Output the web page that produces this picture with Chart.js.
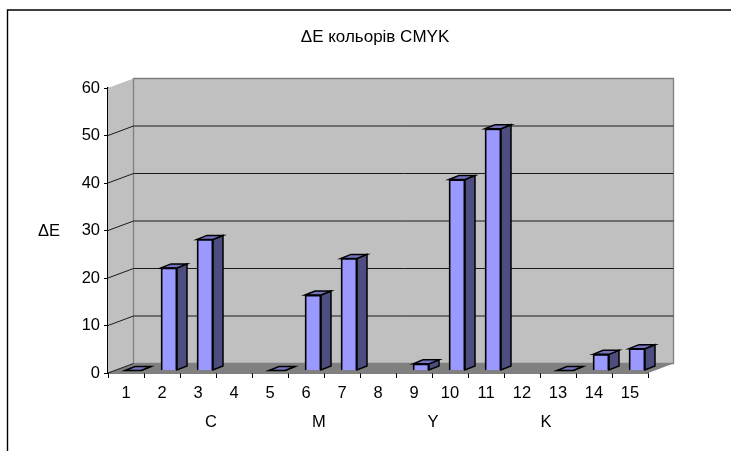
<!DOCTYPE html>
<html>
<head>
<meta charset="utf-8">
<title>ΔE кольорів CMYK</title>
<script src="https://cdn.jsdelivr.net/npm/chart.js@4"></script>
<style>
    html, body { margin: 0; padding: 0; background: #fff; }
    #deltaChart { display: block; }
</style>
</head>
<body>
<div style="width:731px;height:451px"><canvas id="deltaChart" width="731" height="451"></canvas></div>
<script>
var categories = ['1', '2', '3', '4', '5', '6', '7', '8', '9', '10', '11', '12', '13', '14', '15'];
var deltaE = [0, 21.6, 27.6, null, 0, 15.9, 23.6, null, 1.4, 40.2, 50.9, null, 0, 3.4, 4.6];
var groupNames = ['C', 'M', 'Y', 'K'];
var groupCentres = [2.86, 5.86, 9.03, 12.17];
var yTicks = [0, 10, 20, 30, 40, 50, 60];

var fontFamily = '"Liberation Sans", Arial, sans-serif';
// depth of the fake 3D box, and how far the bars sit inside it
var wallDx = 25.5, wallDy = -9.5;
var barDx = 7, barDy = -2.5;
var sideDx = 10, sideDy = -4;

function poly(ctx, pts, fill, stroke, lineWidth) {
    ctx.beginPath();
    ctx.moveTo(pts[0][0], pts[0][1]);
    for (var i = 1; i < pts.length; i++) ctx.lineTo(pts[i][0], pts[i][1]);
    ctx.closePath();
    if (fill) { ctx.fillStyle = fill; ctx.fill(); }
    if (stroke) { ctx.strokeStyle = stroke; ctx.lineWidth = lineWidth; ctx.stroke(); }
}

var box3d = {
    id: 'box3d',
    afterLayout: function (chart) {
        // title sits a little left of the plot centre
        chart.titleBlock.left -= 3;
        chart.titleBlock.right -= 3;
    },
    beforeDraw: function (chart) {
        var ctx = chart.ctx;
        ctx.save();
        ctx.strokeStyle = '#000';
        ctx.lineWidth = 1.4;
        ctx.beginPath();
        ctx.moveTo(7.5, 451);
        ctx.lineTo(7.5, 10);
        ctx.lineTo(731, 10);
        ctx.stroke();
        ctx.restore();
    },
    beforeDatasetsDraw: function (chart) {
        var ctx = chart.ctx, a = chart.chartArea, y = chart.scales.y;
        var l = a.left, r = a.right, t = a.top, b = a.bottom;
        ctx.save();
        // side wall, back wall, floor
        poly(ctx, [[l, t], [l + wallDx, t + wallDy], [l + wallDx, b + wallDy], [l, b]], '#c0c0c0');
        poly(ctx, [[l + wallDx, t + wallDy], [r + wallDx, t + wallDy], [r + wallDx, b + wallDy], [l + wallDx, b + wallDy]], '#c0c0c0', '#808080', 1.3);
        poly(ctx, [[l, b], [l + wallDx, b + wallDy], [r + wallDx, b + wallDy], [r, b]], '#808080');
        // gridlines bend round the side wall
        ctx.strokeStyle = '#1a1a1a';
        ctx.lineWidth = 1;
        yTicks.forEach(function (v) {
            if (v === 60) return;
            var py = y.getPixelForValue(v);
            ctx.beginPath();
            ctx.moveTo(l, py);
            ctx.lineTo(l + wallDx, py + wallDy);
            if (v !== 0) ctx.lineTo(r + wallDx, py + wallDy);
            ctx.stroke();
        });
        // side and top faces of the bars
        var bars = chart.getDatasetMeta(0).data;
        bars.forEach(function (bar, i) {
            if (deltaE[i] === null) return;
            var x1 = bar.x - bar.width / 2 + barDx, x2 = bar.x + bar.width / 2 + barDx;
            var top = bar.y + barDy, base = bar.base + barDy;
            poly(ctx, [[x2, top], [x2 + sideDx, top + sideDy], [x2 + sideDx, base + sideDy], [x2, base]], '#4d4d80', '#000', 1.5);
            poly(ctx, [[x1, top], [x1 + sideDx, top + sideDy], [x2 + sideDx, top + sideDy], [x2, top]], '#7373bf', '#000', 1.5);
        });
        ctx.restore();
    },
    beforeDatasetDraw: function (chart) {
        chart.ctx.save();
        chart.ctx.translate(barDx, barDy);
    },
    afterDatasetDraw: function (chart) {
        chart.ctx.restore();
    },
    afterDraw: function (chart) {
        var ctx = chart.ctx;
        ctx.save();
        ctx.font = '16.5px ' + fontFamily;
        ctx.fillStyle = '#000';
        ctx.textAlign = 'center';
        ctx.textBaseline = 'middle';
        ctx.fillText('ΔE', 49, 231);
        ctx.restore();
    }
};

new Chart(document.getElementById('deltaChart').getContext('2d'), {
    type: 'bar',
    data: {
        labels: categories,
        datasets: [{
            data: deltaE,
            xAxisID: 'x',
            yAxisID: 'y',
            backgroundColor: '#9999ff',
            borderColor: '#000',
            borderWidth: 1.8,
            barThickness: 16,
            clip: false
        }]
    },
    plugins: [box3d],
    options: {
        responsive: false,
        animation: false,
        layout: { padding: { left: 0, right: 83, top: 0, bottom: 0 } },
        plugins: {
            legend: { display: false },
            tooltip: { enabled: false },
            title: {
                display: true,
                text: 'ΔE кольорів CMYK',
                fullSize: false,
                color: '#000',
                font: { family: fontFamily, size: 17, weight: 'normal', lineHeight: 1.2 },
                padding: { top: 27, bottom: 40.6 }
            }
        },
        scales: {
            x: {
                type: 'category',
                position: 'bottom',
                weight: 0,
                afterFit: function (axis) { axis.height = 30; },
                border: { color: '#000', width: 1.4 },
                grid: { offset: true, drawOnChartArea: false, drawTicks: true, tickLength: 5, color: '#000' },
                ticks: { color: '#000', padding: 6, maxRotation: 0, autoSkip: false, font: { family: fontFamily, size: 16.5 } }
            },
            groups: {
                type: 'linear',
                position: 'bottom',
                weight: 1,
                offset: false,
                min: 0,
                max: 15,
                afterFit: function (axis) { axis.height = 48; },
                afterBuildTicks: function (axis) {
                    axis.ticks = groupCentres.map(function (v) { return { value: v }; });
                },
                border: { display: false },
                grid: { display: false },
                ticks: {
                    color: '#000',
                    padding: 2,
                    maxRotation: 0,
                    autoSkip: false,
                    font: { family: fontFamily, size: 16.5 },
                    callback: function (value, index) { return groupNames[index]; }
                }
            },
            y: {
                position: 'left',
                min: 0,
                max: 60,
                afterFit: function (axis) { axis.width = 108; },
                afterBuildTicks: function (axis) {
                    axis.ticks = yTicks.map(function (v) { return { value: v }; });
                },
                border: { color: '#000', width: 1.4 },
                grid: { drawOnChartArea: false, drawTicks: true, tickLength: 4, color: '#000' },
                ticks: { color: '#000', padding: 4, font: { family: fontFamily, size: 16.5 } }
            }
        }
    }
});
</script>
</body>
</html>
